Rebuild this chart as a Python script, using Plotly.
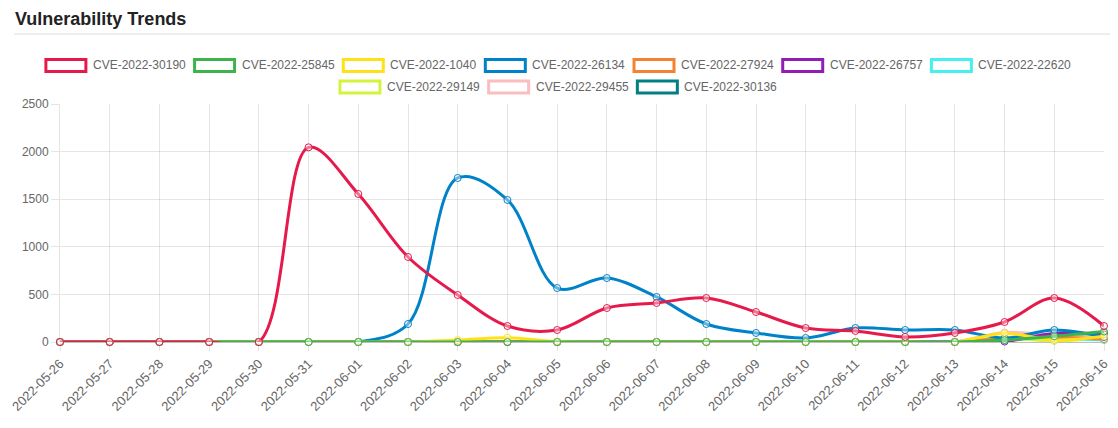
import plotly.graph_objects as go

dates = [
    '2022-05-26', '2022-05-27', '2022-05-28', '2022-05-29', '2022-05-30',
    '2022-05-31', '2022-06-01', '2022-06-02', '2022-06-03', '2022-06-04',
    '2022-06-05', '2022-06-06', '2022-06-07', '2022-06-08', '2022-06-09',
    '2022-06-10', '2022-06-11', '2022-06-12', '2022-06-13', '2022-06-14',
    '2022-06-15', '2022-06-16',
]

cve_30190 = [0, 0, 0, 0, 0, 2045, 1555, 893, 494, 168, 126, 357, 410, 462, 315, 147, 116, 53, 95, 210, 462, 168]
cve_25845 = [0, 0, 0, 0, 0, 0, 0, 0, 0, 0, 0, 0, 0, 0, 0, 0, 0, 0, 0, 20, 60, 110]
cve_1040 = [0, 0, 0, 0, 0, 0, 0, 0, 20, 45, 5, 0, 0, 0, 0, 0, 0, 0, 0, 90, 20, 60]
cve_26134 = [0, 0, 0, 0, 0, 0, 0, 189, 1723, 1492, 567, 672, 473, 189, 95, 42, 147, 126, 126, 42, 126, 53]
cve_27924 = [0, 0, 0, 0, 0, 0, 0, 0, 0, 0, 0, 0, 0, 0, 0, 0, 0, 0, 0, 40, 50, 30]
cve_26757 = [0, 0, 0, 0, 0, 0, 0, 0, 0, 0, 0, 0, 0, 0, 0, 0, 0, 0, 0, 5, 90, 80]
cve_22620 = [0, 0, 0, 0, 0, 0, 0, 0, 0, 0, 0, 0, 0, 0, 0, 0, 0, 0, 0, 30, 40, 20]
cve_29149 = [0, 0, 0, 0, 0, 0, 0, 0, 0, 0, 0, 0, 0, 0, 0, 0, 0, 0, 0, 40, 10, 50]
cve_29455 = [0, 0, 0, 0, 0, 0, 0, 0, 0, 0, 0, 0, 0, 0, 0, 0, 0, 0, 0, 100, 70, 40]
cve_30136 = [0, 0, 0, 0, 0, 0, 0, 0, 0, 0, 0, 0, 0, 0, 0, 0, 0, 0, 0, 20, 60, 100]

series = [
    ('CVE-2022-30190', cve_30190, '#e6194b'),
    ('CVE-2022-25845', cve_25845, '#3cb44b'),
    ('CVE-2022-1040', cve_1040, '#ffe119'),
    ('CVE-2022-26134', cve_26134, '#0082c8'),
    ('CVE-2022-27924', cve_27924, '#f58231'),
    ('CVE-2022-26757', cve_26757, '#911eb4'),
    ('CVE-2022-22620', cve_22620, '#46f0f0'),
    ('CVE-2022-29149', cve_29149, '#d2f53c'),
    ('CVE-2022-29455', cve_29455, '#fabebe'),
    ('CVE-2022-30136', cve_30136, '#008080'),
]

# the page body has an 8px margin, so work in page pixels minus that offset
OFF = 8
W, H = 1118 - OFF, 428 - OFF
PLOT_L, PLOT_R, PLOT_T, PLOT_B = 60 - OFF, 1104 - OFF, 104 - OFF, 342 - OFF
FONT = 'Liberation Sans, Arial, Helvetica, sans-serif'


def px_x(px):
    return (px - OFF - PLOT_L) / (PLOT_R - PLOT_L)


def px_y(py):
    return (PLOT_B - (py - OFF)) / (PLOT_B - PLOT_T)


def text_width(s):
    # rough Arial 12px widths
    widths = {'C': 8.67, 'V': 8.0, 'E': 8.0, '-': 4.0}
    return sum(widths.get(ch, 6.67) for ch in s)


fig = go.Figure()

# chart.js paints the first dataset on top, so add them back to front
for name, values, color in reversed(series):
    fig.add_trace(go.Scatter(
        x=dates,
        y=values,
        name=name,
        mode='lines+markers',
        line=dict(color=color, width=3, shape='spline', smoothing=1.0),
        marker=dict(size=7, color='rgba(255,255,255,0.4)', line=dict(color=color, width=1)),
        cliponaxis=False,
        showlegend=False,
    ))

shapes = [dict(
    type='line', xref='paper', yref='paper',
    x0=px_x(14), x1=px_x(1112), y0=px_y(34), y1=px_y(34),
    line=dict(color='#dddddd', width=1),
)]
annotations = [dict(
    text='<b>Vulnerability Trends</b>', xref='paper', yref='paper',
    x=px_x(13), y=px_y(19), xanchor='left', yanchor='middle', showarrow=False,
    font=dict(family=FONT, size=18, color='#222222'),
)]

# legend rows drawn chart.js style: outlined boxes, centred
rows = [series[:7], series[7:]]
row_y = [65.5, 87]
center = 558
for row, cy in zip(rows, row_y):
    widths = [40 + 6 + text_width(n) for n, _, _ in row]
    total = sum(widths) + 10 * (len(row) - 1)
    x = center - total / 2
    for (name, _, color), w in zip(row, widths):
        shapes.append(dict(
            type='rect', xref='paper', yref='paper',
            x0=px_x(x), x1=px_x(x + 40), y0=px_y(cy - 6), y1=px_y(cy + 6),
            line=dict(color=color, width=3), fillcolor='white',
        ))
        annotations.append(dict(
            text=name, xref='paper', yref='paper',
            x=px_x(x + 45), y=px_y(cy), xanchor='left', yanchor='middle', showarrow=False,
            font=dict(family=FONT, size=12, color='#666666'),
        ))
        x += w + 10

fig.update_layout(
    width=W,
    height=H,
    margin=dict(l=PLOT_L, r=W - PLOT_R, t=PLOT_T, b=H - PLOT_B, pad=0, autoexpand=False),
    paper_bgcolor='white',
    plot_bgcolor='white',
    font=dict(family=FONT, size=12, color='#666666'),
    showlegend=False,
    shapes=shapes,
    annotations=annotations,
)

fig.update_xaxes(
    type='category',
    range=[0, len(dates) - 1],
    tickangle=-45,
    automargin=False,
    showgrid=True,
    gridcolor='rgba(0,0,0,0.1)',
    ticks='outside',
    ticklen=8,
    tickcolor='rgba(0,0,0,0.1)',
    showline=False,
    zeroline=False,
    tickfont=dict(size=13, color='#666666'),
)

fig.update_yaxes(
    range=[0, 2500],
    dtick=500,
    automargin=False,
    showgrid=True,
    gridcolor='rgba(0,0,0,0.1)',
    ticks='outside',
    ticklen=8,
    tickcolor='rgba(0,0,0,0.1)',
    zeroline=True,
    zerolinecolor='rgba(0,0,0,0.25)',
    zerolinewidth=1,
    showline=True,
    linecolor='rgba(0,0,0,0.1)',
    tickfont=dict(size=12, color='#666666'),
)

fig.write_html('out.html')
